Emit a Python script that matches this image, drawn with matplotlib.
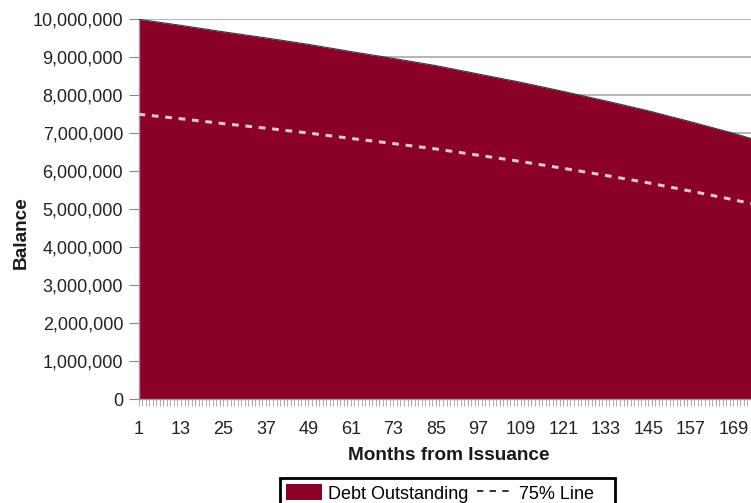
import matplotlib.pyplot as plt
import matplotlib.ticker as mticker
from matplotlib.lines import Line2D
from matplotlib.patches import Patch

plt.rcParams['font.family'] = ['Liberation Sans', 'DejaVu Sans']

# balance (millions), month from issuance
months = [1, 13, 25, 37, 49, 61, 73, 85, 97, 109, 121, 133, 145, 157, 169, 174]
debt = [10.00, 9.84, 9.67, 9.51, 9.34, 9.15, 8.97, 8.78, 8.56, 8.34, 8.10,
        7.85, 7.59, 7.30, 7.00, 6.86]
line_pct = 0.75
tick_months = [1, 13, 25, 37, 49, 61, 73, 85, 97, 109, 121, 133, 145, 157, 169]
y_ticks = list(range(0, 10_000_001, 1_000_000))

debt_vals = [d * 1e6 for d in debt]
line_vals = [v * line_pct for v in debt_vals]

fill_color = '#8a0026'

fig = plt.figure(figsize=(7.51, 5.03), dpi=100)
ax = fig.add_axes([138.5 / 751, 1 - 399 / 503, 1 - 138.5 / 751, (399 - 19.3) / 503])

ax.fill_between(months, 0, debt_vals, color=fill_color, lw=0, zorder=2)
ax.plot(months, debt_vals, color='#3a3a3a', lw=0.8, zorder=3)
ax.plot(months, line_vals, color='#d9c9cc', lw=2.2, dashes=(2.2, 2.2), zorder=4)

ax.set_xlim(1, 173.8)
ax.set_ylim(0, 10_000_000)
ax.set_yticks(y_ticks)
ax.yaxis.set_major_formatter(mticker.FuncFormatter(lambda v, p: f'{int(v):,}'))
ax.yaxis.grid(True, color='#a8a8a8', lw=1.2, zorder=1)
ax.set_axisbelow(True)

ax.set_xticks(tick_months)
ax.set_xticks(range(1, 175), minor=True)
ax.tick_params(axis='x', which='both', length=5, width=0.6, color='#a0a0a0',
               pad=11, labelsize=13, labelcolor='#222222')
ax.tick_params(axis='y', length=7, width=0.8, color='#8a8a8a', pad=4,
               labelsize=13, labelcolor='#222222')

for side in ['top', 'right']:
    ax.spines[side].set_visible(False)
for side in ['left', 'bottom']:
    ax.spines[side].set_color('#9a9a9a')
    ax.spines[side].set_linewidth(1)

ax.set_ylabel('Balance', fontsize=13.7, fontweight='bold', color='#1a1a1a')
ax.yaxis.set_label_coords((21 - 138.5) / 612.5, (399 - 233) / 379.7)
ax.yaxis.label.set_va('center')
ax.set_xlabel('Months from Issuance', fontsize=13.7, fontweight='bold', color='#1a1a1a')
ax.xaxis.set_label_coords((448.5 - 138.5) / 612.5, -(456 - 399) / 379.7)
ax.xaxis.label.set_va('center')

handles = [Patch(facecolor=fill_color, edgecolor='none'),
           Line2D([0], [0], color='#222222', lw=1.3, dashes=(3.5, 3.5))]
leg = fig.legend(handles, ['Debt Outstanding', '75% Line'], ncol=2,
                 loc='upper left', bbox_to_anchor=(280 / 751, 1 - 478 / 503),
                 fancybox=False, edgecolor='black', framealpha=1, fontsize=13,
                 handlelength=2.0, handleheight=1.0, handletextpad=0.3,
                 columnspacing=0.5, borderpad=0.35, borderaxespad=0)
leg.get_frame().set_linewidth(2)
leg._legend_box.align = 'left'
leg.get_texts()[1].set_text('75% Line   ')

fig.savefig('out.png', dpi=100)
